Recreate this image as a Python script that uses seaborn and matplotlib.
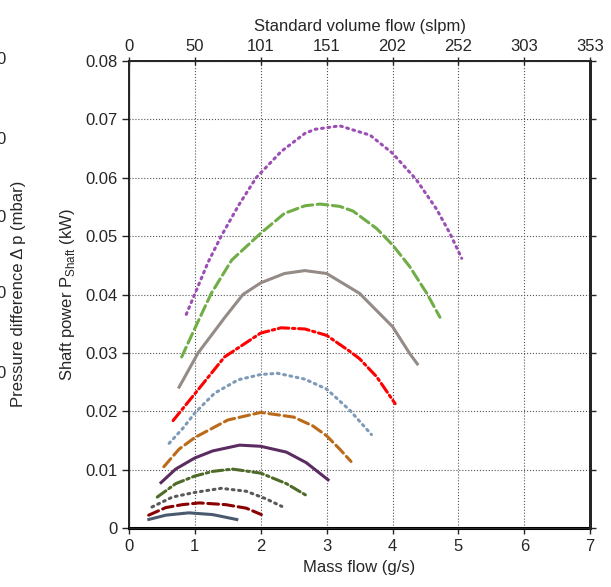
import matplotlib
matplotlib.use("Agg")
import matplotlib.pyplot as plt
import seaborn as sns
import pandas as pd

# curves: mass flow (g/s) vs shaft power (kW)
x_purple = [0.87, 1.0, 1.2, 1.4, 1.66, 1.93, 2.31, 2.67, 2.82, 3.2, 3.66, 4.0, 4.36, 4.67, 4.87, 5.05]
y_purple = [0.0366, 0.0401, 0.0455, 0.0500, 0.0552, 0.0600, 0.0645, 0.0676, 0.0683, 0.0689, 0.0673, 0.0642, 0.0597, 0.0546, 0.0505, 0.0462]
x_green = [0.80, 1.0, 1.25, 1.56, 2.0, 2.36, 2.67, 2.9, 3.2, 3.4, 3.76, 4.0, 4.26, 4.52, 4.72]
y_green = [0.0293, 0.0342, 0.0402, 0.0459, 0.0505, 0.0539, 0.0552, 0.0555, 0.0551, 0.0543, 0.0513, 0.0485, 0.0448, 0.0402, 0.0361]
x_grey = [0.75, 1.05, 1.45, 1.73, 2.0, 2.36, 2.67, 3.0, 3.5, 4.0, 4.26, 4.39]
y_grey = [0.0239, 0.0300, 0.0360, 0.0400, 0.0420, 0.0436, 0.0441, 0.0436, 0.0402, 0.0345, 0.0299, 0.0279]
x_red = [0.67, 1.0, 1.45, 2.0, 2.31, 2.67, 3.0, 3.36, 3.5, 3.76, 4.04]
y_red = [0.0184, 0.0230, 0.0293, 0.0334, 0.0343, 0.0341, 0.0330, 0.0302, 0.0290, 0.0259, 0.0213]
x_blue = [0.61, 0.82, 1.0, 1.3, 1.66, 2.0, 2.26, 2.67, 3.0, 3.35, 3.68]
y_blue = [0.0145, 0.0171, 0.0197, 0.0231, 0.0254, 0.0263, 0.0265, 0.0255, 0.0238, 0.0202, 0.0160]
x_brown = [0.53, 0.76, 1.0, 1.5, 2.0, 2.5, 2.79, 3.0, 3.2, 3.37]
y_brown = [0.0105, 0.0135, 0.0155, 0.0185, 0.0198, 0.0190, 0.0175, 0.0158, 0.0135, 0.0114]
x_dpurple = [0.47, 0.71, 1.0, 1.27, 1.68, 2.0, 2.39, 2.69, 3.04]
y_dpurple = [0.0076, 0.0101, 0.0120, 0.0132, 0.0142, 0.0140, 0.0130, 0.0112, 0.0081]
x_dgreen = [0.43, 0.71, 1.0, 1.27, 1.57, 2.0, 2.39, 2.69]
y_dgreen = [0.0053, 0.0076, 0.0089, 0.0097, 0.0101, 0.0094, 0.0076, 0.0056]
x_dgrey = [0.35, 0.66, 1.0, 1.4, 1.78, 2.08, 2.32]
y_dgrey = [0.0036, 0.0053, 0.0061, 0.0068, 0.0063, 0.0050, 0.0037]
x_dred = [0.30, 0.56, 0.81, 1.07, 1.47, 1.78, 2.01]
y_dred = [0.0022, 0.0035, 0.0040, 0.0043, 0.0040, 0.0034, 0.0023]
x_slate = [0.28, 0.56, 0.91, 1.27, 1.66]
y_slate = [0.0014, 0.0022, 0.0026, 0.0023, 0.0014]

x_ticks = [0, 1, 2, 3, 4, 5, 6, 7]
top_tick_labels = ["0", "50", "101", "151", "202", "252", "303", "353"]
y_ticks = [0, 0.01, 0.02, 0.03, 0.04, 0.05, 0.06, 0.07, 0.08]
y_tick_labels = ["0", "0.01", "0.02", "0.03", "0.04", "0.05", "0.06", "0.07", "0.08"]

dot = (0, (0.6, 1.5))
dash = (0, (3.5, 1.5))
dashdot = (0, (3.5, 1.2, 0.8, 1.2))
curves = [
    (x_purple, y_purple, "#9B4FB5", dot),
    (x_green, y_green, "#70AD47", dash),
    (x_grey, y_grey, "#958B86", "-"),
    (x_red, y_red, "#FF0000", dashdot),
    (x_blue, y_blue, "#7E9AB8", dot),
    (x_brown, y_brown, "#BA6A18", dash),
    (x_dpurple, y_dpurple, "#5B2C60", "-"),
    (x_dgreen, y_dgreen, "#4F6B2A", dashdot),
    (x_dgrey, y_dgrey, "#595959", dot),
    (x_dred, y_dred, "#8B0000", dash),
    (x_slate, y_slate, "#4A5A6E", "-"),
]

sns.set_style("white")
plt.rcParams["font.family"] = ["Liberation Sans", "DejaVu Sans"]
plt.rcParams["font.size"] = 12

fig = plt.figure(figsize=(6.11, 5.87), dpi=100)
ax = fig.add_axes([0.211, 0.1005, 0.755, 0.7955])

for xs, ys, col, ls in curves:
    df = pd.DataFrame({"x": xs, "y": ys})
    sns.lineplot(data=df, x="x", y="y", color=col, linewidth=2.2, ax=ax)
    ln = ax.lines[-1]
    ln.set_linestyle(ls)
    ln.set_dash_capstyle("round")
    ln.set_solid_capstyle("butt")
    ln.set_solid_joinstyle("round")

ax.set_xlim(0, 7)
ax.set_ylim(0, 0.08)
ax.set_xticks(x_ticks)
ax.set_xticklabels([str(t) for t in x_ticks])
ax.set_yticks(y_ticks)
ax.set_yticklabels(y_tick_labels)
ax.grid(True, color="#555555", linestyle=":", linewidth=0.8)
ax.set_xlabel("Mass flow (g/s)", fontsize=12, labelpad=4)
ax.set_ylabel(r"Shaft power P$_\mathregular{Shaft}$ (kW)", fontsize=12, labelpad=6)
ax.tick_params(axis="x", direction="out", length=4, width=1, labelsize=12, pad=4)
ax.tick_params(axis="y", direction="out", length=5, width=1, labelsize=12, pad=3)
for s in ["left", "top"]:
    ax.spines[s].set_linewidth(1.2)
ax.spines["bottom"].set_linewidth(2.2)
ax.spines["right"].set_linewidth(2.0)
for s in ax.spines.values():
    s.set_color("black")

# right-hand ticks without labels
axr = ax.twinx()
axr.set_ylim(0, 0.08)
axr.set_yticks(y_ticks)
axr.set_yticklabels([])
axr.tick_params(axis="y", direction="out", length=4, width=1)
axr.spines["right"].set_linewidth(2.0)

# top axis: standard volume flow
axt = ax.twiny()
axt.set_xlim(0, 7)
axt.set_xticks(x_ticks)
axt.set_xticklabels(top_tick_labels)
axt.tick_params(axis="x", direction="inout", length=6, width=1, labelsize=12, pad=2)
axt.set_xlabel("Standard volume flow (slpm)", fontsize=12, labelpad=6)
axt.spines["top"].set_linewidth(1.2)

# label of the neighbouring (cropped) pressure axis
fig.text(0.03, 0.5, "Pressure difference \u0394 p (mbar)", rotation=90,
         ha="center", va="center", fontsize=12)
for yp in [60, 140, 217, 293, 373]:
    fig.text(6 / 611, 1 - yp / 587, "0", ha="right", va="center", fontsize=12)

fig.savefig("out.png", dpi=100)
